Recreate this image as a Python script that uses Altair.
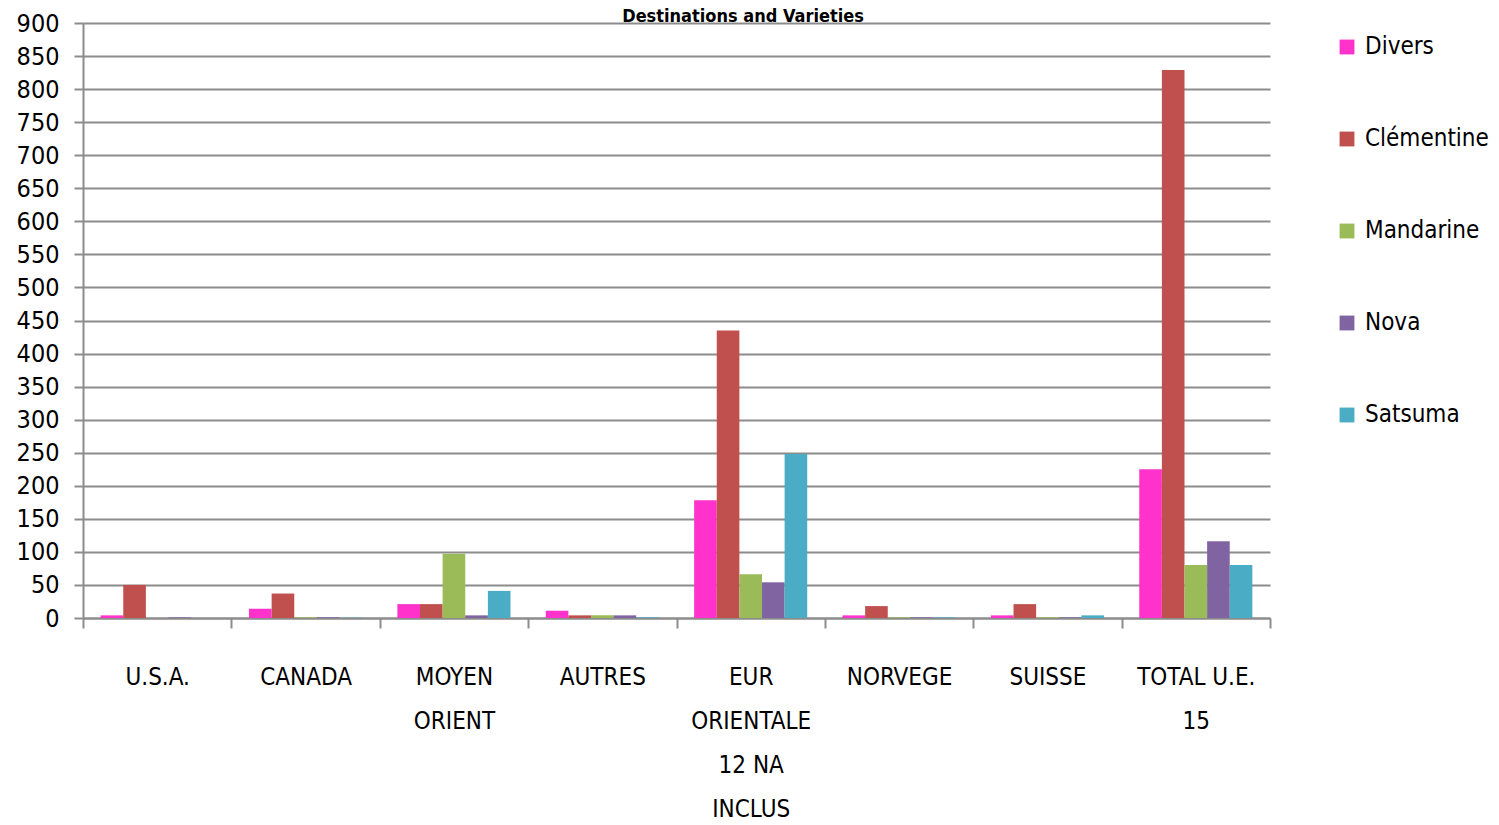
import altair as alt
import pandas as pd

destinations = ["U.S.A.", "CANADA", "MOYEN|ORIENT", "AUTRES", "EUR|ORIENTALE|12 NA|INCLUS", "NORVEGE", "SUISSE", "TOTAL U.E.|15"]
varieties = ["Divers", "Clémentine", "Mandarine", "Nova", "Satsuma"]
colors = ["#FF33CC", "#C0504D", "#9BBB59", "#8064A2", "#4BACC6"]
title_text = ["Destinations and Varieties"]

divers = [4, 14, 21, 11, 178, 4, 4, 225]
clementine = [50, 37, 21, 4, 435, 18, 21, 829]
mandarine = [0, 1, 97, 4, 66, 1, 1, 80]
nova = [1, 1, 4, 4, 54, 1, 1, 116]
satsuma = [0, 0.5, 41, 1, 248, 1, 4, 80]

series = [divers, clementine, mandarine, nova, satsuma]
rows = []
for v, vals in zip(varieties, series):
    for d, val in zip(destinations, vals):
        rows.append({"Destination": d, "Variety": v, "Value": val})
df = pd.DataFrame(rows)

FONT = "DejaVu Sans Condensed"

bars = alt.Chart(df).mark_bar().encode(
    x=alt.X("Destination:N", sort=destinations,
            scale=alt.Scale(paddingInner=0, paddingOuter=0),
            axis=alt.Axis(title=None, labelAngle=0, tickBand="extent", tickSize=10,
                          labelExpr="split(datum.label, '|')", labelFontSize=24,
                          labelLineHeight=44, labelPadding=37, labelFont=FONT,
                          labelColor="#000", domainColor="#8c8c8c", tickColor="#8c8c8c",
                          domainWidth=2, tickWidth=2, labelBaseline="top")),
    xOffset=alt.XOffset("Variety:N", sort=varieties,
                        scale=alt.Scale(paddingInner=0, paddingOuter=0.78)),
    y=alt.Y("Value:Q", scale=alt.Scale(domain=[0, 900], nice=False),
            axis=alt.Axis(title=None, values=list(range(0, 901, 50)), tickSize=9,
                          labelFontSize=25, labelFont=FONT, labelColor="#000",
                          labelPadding=15, gridColor="#8c8c8c", gridWidth=2,
                          domainColor="#8c8c8c", tickColor="#8c8c8c",
                          domainWidth=2, tickWidth=2)),
    color=alt.Color("Variety:N", sort=varieties,
                    scale=alt.Scale(domain=varieties, range=colors),
                    legend=alt.Legend(title=None, orient="none", legendX=1252, legendY=12,
                                      labelFontSize=24, labelFont=FONT, symbolType="square",
                                      symbolSize=220, symbolStrokeWidth=0, rowPadding=68,
                                      labelOffset=6, labelColor="#000")),
)

title = alt.Chart(pd.DataFrame({"t": title_text})).mark_text(
    font=FONT, fontSize=18, fontWeight="bold", color="#000",
    align="center", baseline="alphabetic"
).encode(text="t:N", x=alt.value(660), y=alt.value(-1.5))

chart = alt.layer(bars, title).properties(
    width=1187, height=595,
    autosize=alt.AutoSizeParams(type="none"),
    padding={"left": 75, "top": 15, "right": 221, "bottom": 200},
).configure_view(stroke=None)

chart.save("out.html", embed_options={"renderer": "svg", "actions": False})
